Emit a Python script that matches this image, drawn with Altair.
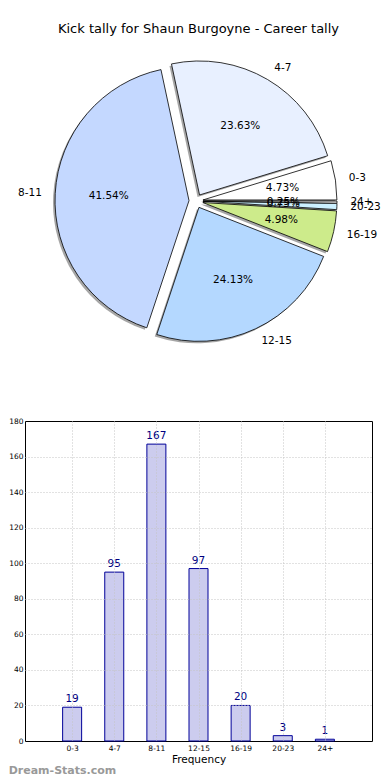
import altair as alt
import pandas as pd

# ---- data ----
labels = ["0-3", "4-7", "8-11", "12-15", "16-19", "20-23", "24+"]
counts = [19, 95, 167, 97, 20, 3, 1]
slice_colors = ["#ffffff", "#e8f0ff", "#c4d8ff", "#b4d8ff", "#cdeb8b", "#ccf0ff", "#ffffff"]
y_ticks = [0, 20, 40, 60, 80, 100, 120, 140, 160, 180]

TITLE = "Kick tally for Shaun Burgoyne - Career tally"
FONT = "DejaVu Sans"

df = pd.DataFrame({"label": labels, "count": counts, "idx": list(range(len(labels)))})

# ---- pie geometry (pixels, in pie panel) ----
R = 134
EXPLODE = 7
X0 = 23
CX, CY = 194 - X0, 156
PW, PH = 370 - X0, 365

pie_base = (
    alt.Chart(df)
    .transform_window(cum="sum(count)", sort=[alt.SortField("idx")], frame=[None, 0])
    .transform_joinaggregate(total="sum(count)")
    .transform_calculate(a1="2*PI*(datum.cum - datum.count)/datum.total")
    .transform_calculate(a2="2*PI*datum.cum/datum.total")
    .transform_calculate(mid="(datum.a1 + datum.a2)/2")
    .transform_calculate(t1="5*PI/2 - datum.a2")
    .transform_calculate(t2="5*PI/2 - datum.a1")
    .transform_calculate(cx=f"{CX} + {EXPLODE}*cos(datum.mid)")
    .transform_calculate(cy=f"{CY} - {EXPLODE}*sin(datum.mid)")
    .transform_calculate(sx="datum.cx - 2")
    .transform_calculate(sy="datum.cy + 2")
    .transform_calculate(frac="datum.count/datum.total")
    .transform_calculate(px=f"datum.cx + {0.6 * R}*cos(datum.mid)")
    .transform_calculate(py=f"datum.cy - {0.6 * R}*sin(datum.mid)")
    .transform_calculate(lx=f"datum.cx + {1.1 * R}*cos(datum.mid)")
    .transform_calculate(ly=f"datum.cy - {1.1 * R}*sin(datum.mid)")
    .transform_calculate(side="cos(datum.mid) >= 0 ? 'r' : 'l'")
)

shadow = pie_base.mark_arc(radius=R, fill="#808080", opacity=0.7).encode(
    x=alt.X("sx:Q", scale=None),
    y=alt.Y("sy:Q", scale=None),
    theta=alt.Theta("t1:Q", scale=None, stack=None),
    theta2=alt.Theta2("t2:Q"),
)

arcs = pie_base.mark_arc(radius=R, stroke="black", strokeWidth=0.8).encode(
    x=alt.X("cx:Q", scale=None),
    y=alt.Y("cy:Q", scale=None),
    theta=alt.Theta("t1:Q", scale=None, stack=None),
    theta2=alt.Theta2("t2:Q"),
    fill=alt.Fill("label:N", scale=alt.Scale(domain=labels, range=slice_colors), legend=None),
)

pct = pie_base.mark_text(font=FONT, fontSize=10.5, color="black", baseline="middle").encode(
    x=alt.X("px:Q", scale=None),
    y=alt.Y("py:Q", scale=None),
    text=alt.Text("frac:Q", format=".2%"),
)

lab_r = pie_base.transform_filter("datum.side == 'r'").mark_text(
    font=FONT, fontSize=10.5, color="black", align="left", baseline="middle"
).encode(
    x=alt.X("lx:Q", scale=None),
    y=alt.Y("ly:Q", scale=None),
    text="label:N",
)

lab_l = pie_base.transform_filter("datum.side == 'l'").mark_text(
    font=FONT, fontSize=10.5, color="black", align="right", baseline="middle"
).encode(
    x=alt.X("lx:Q", scale=None),
    y=alt.Y("ly:Q", scale=None),
    text="label:N",
)

pie = alt.layer(shadow, arcs, pct, lab_r, lab_l).properties(
    width=PW,
    height=PH,
    title=alt.TitleParams(TITLE, font=FONT, fontSize=13, fontWeight="normal", color="black", offset=9),
    view=alt.ViewBackground(stroke=None),
)

# ---- bar chart ----
label_expr = "[" + ",".join(f"'{l}'" for l in labels) + "][datum.value]"

x_enc = alt.X(
    "idx:Q",
    scale=alt.Scale(domain=[-1, len(labels)], nice=False, zero=False),
    axis=alt.Axis(
        values=list(range(len(labels))),
        labelExpr=label_expr,
        labelOverlap=False,
        title="Frequency",
        titleFont=FONT,
        titleFontSize=10.5,
        titleFontWeight="normal",
        titleColor="black",
        titlePadding=3,
        labelFont=FONT,
        labelFontSize=7.5,
        labelColor="black",
        labelPadding=3,
        ticks=False,
        domain=False,
        grid=True,
        gridColor="#c4c4c4",
        gridDash=[1, 2],
        gridWidth=1,
        zindex=1,
    ),
)
y_enc = alt.Y(
    "count:Q",
    scale=alt.Scale(domain=[0, 180], nice=False, zero=True),
    axis=alt.Axis(
        values=y_ticks,
        tickCount=len(y_ticks),
        labelOverlap=False,
        title=None,
        labelFont=FONT,
        labelFontSize=7.5,
        labelColor="black",
        labelPadding=2,
        ticks=False,
        domain=False,
        grid=True,
        gridColor="#c4c4c4",
        gridDash=[1, 2],
        gridWidth=1,
        gridOpacity={"condition": {"test": "datum.value <= 0 || datum.value >= 180", "value": 0}, "value": 1},
        zindex=1,
    ),
)

bars = alt.Chart(df).mark_bar(size=19, fill="#ccccee", stroke="#000099", strokeWidth=1).encode(
    x=x_enc, y=y_enc
)
vals = alt.Chart(df).mark_text(font=FONT, fontSize=10.5, color="#000080", dy=-8, baseline="middle").encode(
    x=x_enc, y=y_enc, text="count:Q"
)

bar = alt.layer(bars, vals).properties(
    width=PW,
    height=320,
    view=alt.ViewBackground(stroke="black", strokeWidth=1),
    title=alt.TitleParams(
        "Dream-Stats.com",
        orient="bottom",
        anchor="start",
        frame="bounds",
        font=FONT,
        fontSize=11,
        fontWeight="bold",
        color="#999999",
        offset=0,
    ),
)

chart = (
    alt.vconcat(pie, bar, spacing=11, bounds="flush")
    .properties(padding={"top": 15, "left": 0, "right": 0, "bottom": 0}, background="white")
    .configure_view(stroke=None)
    .configure_axis(labelOverlap=False)
)

chart.save("out.html", embed_options={"renderer": "svg", "actions": False})
